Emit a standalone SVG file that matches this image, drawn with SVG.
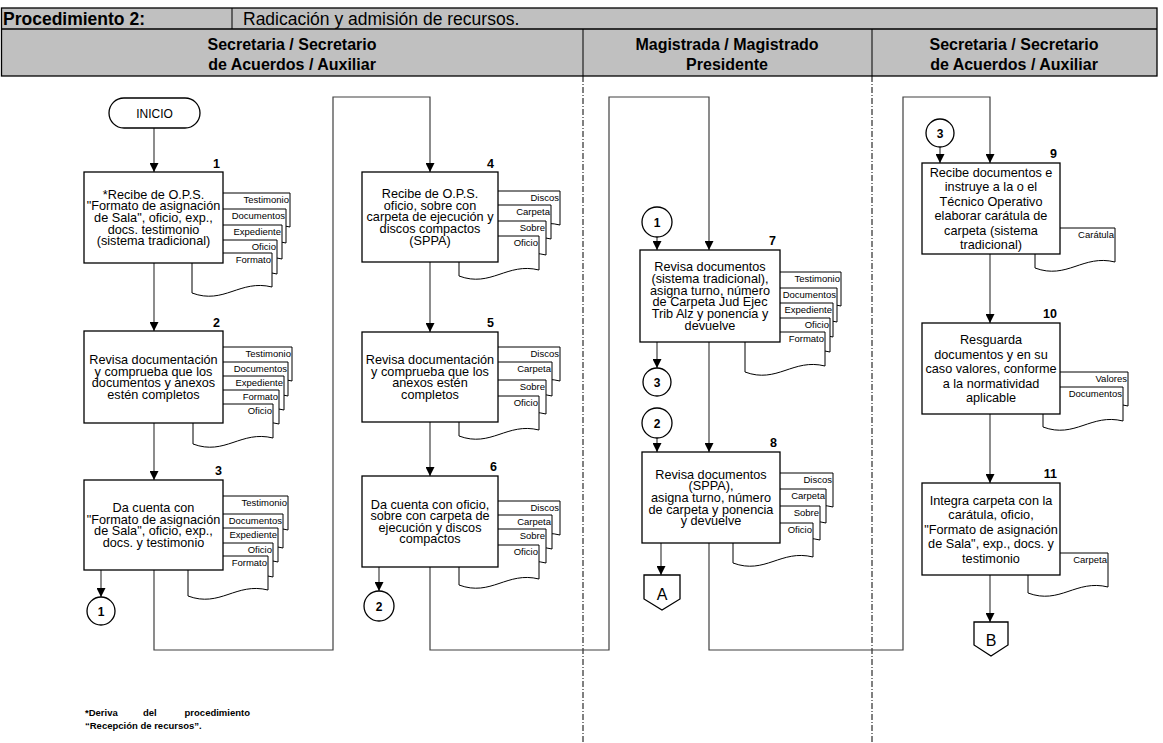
<svg xmlns="http://www.w3.org/2000/svg" xmlns:xlink="http://www.w3.org/1999/xlink" width="1163" height="743" viewBox="0 0 1163 743">
  <style>
    text { font-family: "Liberation Sans", Arial, sans-serif; fill: #000; }
    .hd { font-size: 17.5px; }
    .lane { font-size: 16px; font-weight: bold; text-anchor: middle; }
    .box { fill: #fff; stroke: #000; stroke-width: 1.3; }
    .doc { fill: #fff; stroke: #000; stroke-width: 1; }
    .t { font-size: 12.7px; text-anchor: middle; }
    .dl { font-size: 9.5px; text-anchor: end; }
    .num { font-size: 12.5px; font-weight: bold; text-anchor: end; }
    .cir { fill: #fff; stroke: #000; stroke-width: 1.3; }
    .ct { font-size: 12px; font-weight: bold; text-anchor: middle; }
    .conn { fill: none; stroke: #404040; stroke-width: 1.2; }
    .lanediv { stroke: #000; stroke-width: 1; stroke-dasharray: 6 2 1 2; }
    .note { font-size: 9.5px; font-weight: bold; }
  </style>
  <defs>
    <marker id="ah" viewBox="0 0 10 10" refX="10" refY="5" markerWidth="9" markerHeight="9" markerUnits="userSpaceOnUse" orient="auto">
      <path d="M0,0 L10,5 L0,10 Z" fill="#000"/>
    </marker>
    <!-- document shape, 80 wide, wavy bottom -->
    <path id="doc" d="M0,0 H80 V34 C48,26 32,52 0,40 Z"/>
  </defs>

  <rect width="1163" height="743" fill="#fff"/>

  <!-- header table -->
  <g id="header">
    <rect x="1.5" y="8" width="1155.5" height="68" fill="#c0c0c0" stroke="#000" stroke-width="1.3"/>
    <line x1="1.5" y1="29" x2="1157" y2="29" stroke="#000" stroke-width="1.3"/>
    <line x1="232" y1="8" x2="232" y2="29" stroke="#000" stroke-width="1"/>
    <line x1="583" y1="29" x2="583" y2="76" stroke="#000" stroke-width="1"/>
    <line x1="872" y1="29" x2="872" y2="76" stroke="#000" stroke-width="1"/>
    <text class="hd" x="3" y="25" font-weight="bold">Procedimiento 2:</text>
    <text class="hd" x="243" y="25">Radicación y admisión de recursos.</text>
    <text class="lane" x="292" y="50">Secretaria / Secretario</text>
    <text class="lane" x="292" y="70">de Acuerdos / Auxiliar</text>
    <text class="lane" x="727" y="50">Magistrada / Magistrado</text>
    <text class="lane" x="727" y="70">Presidente</text>
    <text class="lane" x="1014" y="50">Secretaria / Secretario</text>
    <text class="lane" x="1014" y="70">de Acuerdos / Auxiliar</text>
  </g>

  <!-- lane separators -->
  <g id="lanes">
    <line class="lanediv" x1="583" y1="76" x2="583" y2="743"/>
    <line class="lanediv" x1="872" y1="76" x2="872" y2="743"/>
  </g>

  <!-- connectors -->
  <g id="connectors">
    <line class="conn" x1="154" y1="128" x2="154" y2="172" marker-end="url(#ah)"/>
    <line class="conn" x1="154" y1="263" x2="154" y2="331" marker-end="url(#ah)"/>
    <line class="conn" x1="154" y1="423" x2="154" y2="480" marker-end="url(#ah)"/>
    <line class="conn" x1="101" y1="570" x2="101" y2="597" marker-end="url(#ah)"/>
    <path class="conn" d="M154,570 V650 H333 V97 H430 V172" marker-end="url(#ah)"/>
    <line class="conn" x1="430" y1="262" x2="430" y2="332" marker-end="url(#ah)"/>
    <line class="conn" x1="430" y1="422" x2="430" y2="476" marker-end="url(#ah)"/>
    <line class="conn" x1="379" y1="567" x2="379" y2="591" marker-end="url(#ah)"/>
    <path class="conn" d="M430,567 V650 H609 V97 H709 V250" marker-end="url(#ah)"/>
    <line class="conn" x1="657" y1="237" x2="657" y2="250" marker-end="url(#ah)"/>
    <line class="conn" x1="657" y1="342" x2="657" y2="368" marker-end="url(#ah)"/>
    <line class="conn" x1="709" y1="342" x2="709" y2="452" marker-end="url(#ah)"/>
    <line class="conn" x1="657" y1="438" x2="657" y2="452" marker-end="url(#ah)"/>
    <line class="conn" x1="661" y1="543" x2="661" y2="575" marker-end="url(#ah)"/>
    <path class="conn" d="M709,543 V650 H903 V97 H990 V163" marker-end="url(#ah)"/>
    <line class="conn" x1="940" y1="147" x2="940" y2="163" marker-end="url(#ah)"/>
    <line class="conn" x1="990" y1="254" x2="990" y2="323" marker-end="url(#ah)"/>
    <line class="conn" x1="990" y1="414" x2="990" y2="483" marker-end="url(#ah)"/>
    <line class="conn" x1="990" y1="575" x2="990" y2="622" marker-end="url(#ah)"/>
  </g>

  <!-- start -->
  <g id="inicio">
    <rect x="109" y="98" width="91" height="30" rx="15" ry="15" class="box"/>
    <text x="154.5" y="117.5" font-size="12px" text-anchor="middle">INICIO</text>
  </g>

  <!-- step 1 -->
  <g id="step1">
    <use xlink:href="#doc" class="doc" x="210" y="193"/><text class="dl" x="289" y="203">Testimonio</text>
    <use xlink:href="#doc" class="doc" x="206" y="209"/><text class="dl" x="285" y="219">Documentos</text>
    <use xlink:href="#doc" class="doc" x="202" y="225"/><text class="dl" x="281" y="235">Expediente</text>
    <use xlink:href="#doc" class="doc" x="197" y="240"/><text class="dl" x="276" y="250">Oficio</text>
    <use xlink:href="#doc" class="doc" x="192" y="253"/><text class="dl" x="271" y="263">Formato</text>
    <rect class="box" x="84" y="172" width="139" height="91"/>
    <text class="num" x="220" y="168">1</text>
    <text class="t"><tspan x="153.5" y="198.7">*Recibe de O.P.S.</tspan><tspan x="153.5" y="210.3">"Formato de asignación</tspan><tspan x="153.5" y="221.9">de Sala", oficio, exp.,</tspan><tspan x="153.5" y="233.5">docs. testimonio</tspan><tspan x="153.5" y="245.1">(sistema tradicional)</tspan></text>
  </g>

  <!-- step 2 -->
  <g id="step2">
    <use xlink:href="#doc" class="doc" x="212" y="347"/><text class="dl" x="291" y="357">Testimonio</text>
    <use xlink:href="#doc" class="doc" x="208" y="362"/><text class="dl" x="287" y="372">Documentos</text>
    <use xlink:href="#doc" class="doc" x="204" y="376"/><text class="dl" x="283" y="386">Expediente</text>
    <use xlink:href="#doc" class="doc" x="199" y="390"/><text class="dl" x="278" y="400">Formato</text>
    <use xlink:href="#doc" class="doc" x="193" y="404"/><text class="dl" x="272" y="414">Oficio</text>
    <rect class="box" x="84" y="331" width="139" height="92"/>
    <text class="num" x="220" y="327">2</text>
    <text class="t"><tspan x="153.5" y="364">Revisa documentación</tspan><tspan x="153.5" y="375.6">y comprueba que los</tspan><tspan x="153.5" y="387.2">documentos y anexos</tspan><tspan x="153.5" y="398.8">estén completos</tspan></text>
  </g>

  <!-- step 3 -->
  <g id="step3">
    <use xlink:href="#doc" class="doc" x="208" y="496"/><text class="dl" x="287" y="506">Testimonio</text>
    <use xlink:href="#doc" class="doc" x="203" y="514"/><text class="dl" x="282" y="524">Documentos</text>
    <use xlink:href="#doc" class="doc" x="198" y="528"/><text class="dl" x="277" y="538">Expediente</text>
    <use xlink:href="#doc" class="doc" x="193" y="543"/><text class="dl" x="272" y="553">Oficio</text>
    <use xlink:href="#doc" class="doc" x="188" y="556"/><text class="dl" x="267" y="566">Formato</text>
    <rect class="box" x="84" y="480" width="139" height="90"/>
    <text class="num" x="222" y="475">3</text>
    <text class="t"><tspan x="153.5" y="512">Da cuenta con</tspan><tspan x="153.5" y="523.6">"Formato de asignación</tspan><tspan x="153.5" y="535.2">de Sala", oficio, exp.,</tspan><tspan x="153.5" y="546.8">docs. y testimonio</tspan></text>
  </g>

  <g id="conn-out-1">
    <circle class="cir" cx="101" cy="611" r="14"/>
    <text class="ct" x="101" y="615.5">1</text>
  </g>

  <!-- step 4 -->
  <g id="step4">
    <use xlink:href="#doc" class="doc" x="480" y="191"/><text class="dl" x="559" y="201">Discos</text>
    <use xlink:href="#doc" class="doc" x="471" y="205"/><text class="dl" x="550" y="215">Carpeta</text>
    <use xlink:href="#doc" class="doc" x="466" y="221"/><text class="dl" x="545" y="231">Sobre</text>
    <use xlink:href="#doc" class="doc" x="459" y="236"/><text class="dl" x="538" y="246">Oficio</text>
    <rect class="box" x="362" y="172" width="136" height="90"/>
    <text class="num" x="494" y="168">4</text>
    <text class="t"><tspan x="430" y="198.2">Recibe de O.P.S.</tspan><tspan x="430" y="209.8">oficio, sobre con</tspan><tspan x="430" y="221.4">carpeta de ejecución y</tspan><tspan x="430" y="233">discos compactos</tspan><tspan x="430" y="244.6">(SPPA)</tspan></text>
  </g>

  <!-- step 5 -->
  <g id="step5">
    <use xlink:href="#doc" class="doc" x="480" y="347"/><text class="dl" x="559" y="357">Discos</text>
    <use xlink:href="#doc" class="doc" x="472" y="362"/><text class="dl" x="551" y="372">Carpeta</text>
    <use xlink:href="#doc" class="doc" x="466" y="380"/><text class="dl" x="545" y="390">Sobre</text>
    <use xlink:href="#doc" class="doc" x="459" y="396"/><text class="dl" x="538" y="406">Oficio</text>
    <rect class="box" x="362" y="332" width="136" height="90"/>
    <text class="num" x="494" y="327">5</text>
    <text class="t"><tspan x="430" y="364">Revisa documentación</tspan><tspan x="430" y="375.6">y comprueba que los</tspan><tspan x="430" y="387.2">anexos estén</tspan><tspan x="430" y="398.8">completos</tspan></text>
  </g>

  <!-- step 6 -->
  <g id="step6">
    <use xlink:href="#doc" class="doc" x="480" y="501"/><text class="dl" x="559" y="511">Discos</text>
    <use xlink:href="#doc" class="doc" x="472" y="515"/><text class="dl" x="551" y="525">Carpeta</text>
    <use xlink:href="#doc" class="doc" x="466" y="529"/><text class="dl" x="545" y="539">Sobre</text>
    <use xlink:href="#doc" class="doc" x="459" y="545"/><text class="dl" x="538" y="555">Oficio</text>
    <rect class="box" x="362" y="476" width="136" height="91"/>
    <text class="num" x="497" y="471">6</text>
    <text class="t"><tspan x="430" y="508.5">Da cuenta con oficio,</tspan><tspan x="430" y="520.1">sobre con carpeta de</tspan><tspan x="430" y="531.7">ejecución y discos</tspan><tspan x="430" y="543.3">compactos</tspan></text>
  </g>

  <g id="conn-out-2">
    <circle class="cir" cx="379" cy="606" r="15"/>
    <text class="ct" x="379" y="610.5">2</text>
  </g>

  <!-- lane 2 -->
  <g id="conn-in-1">
    <circle class="cir" cx="657" cy="222" r="15"/>
    <text class="ct" x="657" y="226.5">1</text>
  </g>

  <g id="step7">
    <use xlink:href="#doc" class="doc" x="761" y="272"/><text class="dl" x="840" y="282">Testimonio</text>
    <use xlink:href="#doc" class="doc" x="757" y="288"/><text class="dl" x="836" y="298">Documentos</text>
    <use xlink:href="#doc" class="doc" x="753" y="303"/><text class="dl" x="832" y="313">Expediente</text>
    <use xlink:href="#doc" class="doc" x="750" y="318"/><text class="dl" x="829" y="328">Oficio</text>
    <use xlink:href="#doc" class="doc" x="745" y="332"/><text class="dl" x="824" y="342">Formato</text>
    <rect class="box" x="640" y="250" width="140" height="92"/>
    <text class="num" x="776" y="245">7</text>
    <text class="t"><tspan x="710" y="270.9">Revisa documentos</tspan><tspan x="710" y="282.7">(sistema tradicional),</tspan><tspan x="710" y="294.5">asigna turno, número</tspan><tspan x="710" y="306.3">de Carpeta Jud Ejec</tspan><tspan x="710" y="318.1">Trib Alz y ponencia y</tspan><tspan x="710" y="329.9">devuelve</tspan></text>
  </g>

  <g id="conn-out-3">
    <circle class="cir" cx="657" cy="382" r="14"/>
    <text class="ct" x="657" y="386.5">3</text>
  </g>

  <g id="conn-in-2">
    <circle class="cir" cx="657" cy="423" r="15"/>
    <text class="ct" x="657" y="427.5">2</text>
  </g>

  <g id="step8">
    <use xlink:href="#doc" class="doc" x="753" y="473"/><text class="dl" x="832" y="483">Discos</text>
    <use xlink:href="#doc" class="doc" x="746" y="489"/><text class="dl" x="825" y="499">Carpeta</text>
    <use xlink:href="#doc" class="doc" x="740" y="506"/><text class="dl" x="819" y="516">Sobre</text>
    <use xlink:href="#doc" class="doc" x="733" y="523"/><text class="dl" x="812" y="533">Oficio</text>
    <rect class="box" x="642" y="452" width="138" height="91"/>
    <text class="num" x="777" y="447">8</text>
    <text class="t"><tspan x="711" y="478.7">Revisa documentos</tspan><tspan x="711" y="490.3">(SPPA),</tspan><tspan x="711" y="501.9">asigna turno, número</tspan><tspan x="711" y="513.5">de carpeta y ponencia</tspan><tspan x="711" y="525.1">y devuelve</tspan></text>
  </g>

  <g id="offpage-a">
    <path class="box" d="M644,575 H680 V599 L662,610 L644,599 Z"/>
    <text x="662" y="600" font-size="16px" text-anchor="middle">A</text>
  </g>

  <!-- lane 3 -->
  <g id="conn-in-3">
    <circle class="cir" cx="940" cy="133" r="14"/>
    <text class="ct" x="940" y="137.5">3</text>
  </g>

  <g id="step9">
    <use xlink:href="#doc" class="doc" x="1035" y="228"/><text class="dl" x="1114" y="238">Carátula</text>
    <rect class="box" x="922" y="163" width="138" height="91"/>
    <text class="num" x="1057" y="158">9</text>
    <text class="t"><tspan x="991" y="176.8">Recibe documentos e</tspan><tspan x="991" y="191.3">instruye a la o el</tspan><tspan x="991" y="205.8">Técnico Operativo</tspan><tspan x="991" y="220.3">elaborar carátula de</tspan><tspan x="991" y="234.8">carpeta (sistema</tspan><tspan x="991" y="249.3">tradicional)</tspan></text>
  </g>

  <g id="step10">
    <use xlink:href="#doc" class="doc" x="1048" y="372"/><text class="dl" x="1127" y="382">Valores</text>
    <use xlink:href="#doc" class="doc" x="1043" y="387"/><text class="dl" x="1122" y="397">Documentos</text>
    <rect class="box" x="922" y="323" width="138" height="91"/>
    <text class="num" x="1057" y="318">10</text>
    <text class="t"><tspan x="991" y="344">Resguarda</tspan><tspan x="991" y="358.5">documentos y en su</tspan><tspan x="991" y="373">caso valores, conforme</tspan><tspan x="991" y="387.5">a la normatividad</tspan><tspan x="991" y="402">aplicable</tspan></text>
  </g>

  <g id="step11">
    <use xlink:href="#doc" class="doc" x="1028" y="553"/><text class="dl" x="1107" y="563">Carpeta</text>
    <rect class="box" x="922" y="483" width="138" height="92"/>
    <text class="num" x="1057" y="478">11</text>
    <text class="t"><tspan x="991" y="504.5">Integra carpeta con la</tspan><tspan x="991" y="519">carátula, oficio,</tspan><tspan x="991" y="533.5">"Formato de asignación</tspan><tspan x="991" y="548">de Sala", exp., docs. y</tspan><tspan x="991" y="562.5">testimonio</tspan></text>
  </g>

  <g id="offpage-b">
    <path class="box" d="M974,622 H1008 V645 L991,656 L974,645 Z"/>
    <text x="991" y="646" font-size="16px" text-anchor="middle">B</text>
  </g>

  <!-- footnote -->
  <g id="footnote">
    <text class="note" x="85" y="716">*Deriva</text>
    <text class="note" x="143" y="716">del</text>
    <text class="note" x="250" y="716" text-anchor="end">procedimiento</text>
    <text class="note" x="85" y="729">“Recepción de recursos”.</text>
  </g>
</svg>
